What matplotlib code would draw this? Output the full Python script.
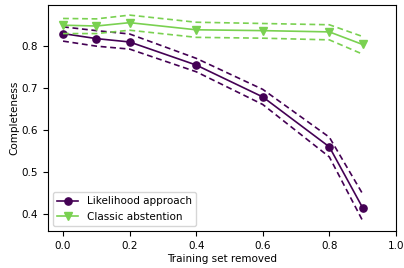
import numpy as np
import matplotlib
matplotlib.use('Agg')
import matplotlib.pyplot as plt

# Fraction of training set removed
removed = [0.0, 0.1, 0.2, 0.4, 0.6, 0.8, 0.9]

# Likelihood approach: mean and band
lik_mean = [0.829, 0.817, 0.809, 0.754, 0.678, 0.559, 0.414]
lik_upper = [0.845, 0.836, 0.828, 0.770, 0.696, 0.582, 0.447]
lik_lower = [0.811, 0.799, 0.792, 0.738, 0.660, 0.535, 0.383]

# Classic abstention: mean and band
cls_mean = [0.849, 0.847, 0.855, 0.838, 0.836, 0.833, 0.803]
cls_upper = [0.865, 0.864, 0.873, 0.856, 0.853, 0.850, 0.822]
cls_lower = [0.829, 0.829, 0.837, 0.820, 0.818, 0.814, 0.780]

purple = '#440154'
green = '#7ad151'

plt.rcParams['font.size'] = 7.5

fig, ax = plt.subplots(figsize=(4.04, 2.68), dpi=100)

dash = (0, (3.5, 2.2))
ax.plot(removed, lik_mean, '-o', color=purple, lw=1.2, ms=5.2, label='Likelihood approach')
ax.plot(removed, lik_upper, linestyle=dash, color=purple, lw=1.2)
ax.plot(removed, lik_lower, linestyle=dash, color=purple, lw=1.2)

ax.plot(removed, cls_mean, '-v', color=green, lw=1.2, ms=5.2, label='Classic abstention')
ax.plot(removed, cls_upper, linestyle=dash, color=green, lw=1.2)
ax.plot(removed, cls_lower, linestyle=dash, color=green, lw=1.2)

ax.set_xlim(-0.045, 1.0)
ax.set_xlabel('Training set removed', labelpad=2)
ax.set_ylabel('Completeness', labelpad=2)
ax.legend(loc='lower left')

fig.subplots_adjust(left=0.119, right=0.98, top=0.982, bottom=0.138)
fig.savefig('out.png', dpi=100)
